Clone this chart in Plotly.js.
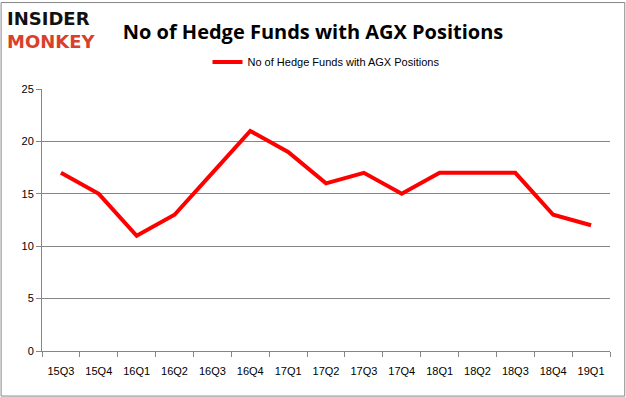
<!DOCTYPE html>
<html><head><meta charset="utf-8">
<script src="https://cdn.plot.ly/plotly-3.0.1.min.js"></script>
<style>body{margin:0;padding:0;}#chart{width:626px;height:397px;}</style>
</head><body><div id="chart"></div>
<script>
const quarters = ["15Q3","15Q4","16Q1","16Q2","16Q3","16Q4","17Q1","17Q2","17Q3","17Q4","18Q1","18Q2","18Q3","18Q4","19Q1"];
const hedgeFunds = [17,15,11,13,17,21,19,16,17,15,17,17,17,13,12];
const seriesName = "No of Hedge Funds with AGX Positions";
const yTicks = [0,5,10,15,20,25];

const trace = {
  x: quarters, y: hedgeFunds, type: "scatter", mode: "lines", name: seriesName,
  line: {color: "#ff0000", width: 4}
};
const layout = {
  width: 626, height: 397,
  margin: {l: 42, r: 16, t: 89, b: 46},
  paper_bgcolor: "#ffffff", plot_bgcolor: "#ffffff",
  font: {family: "Liberation Sans, Arial, sans-serif", size: 11, color: "#000"},
  title: {text: "<b>No of Hedge Funds with AGX Positions</b>", x: 0.5, xanchor: "center", y: 0.92, yanchor: "middle",
    font: {family: "Open Sans, Liberation Sans, sans-serif", size: 20, color: "#000"}},
  showlegend: true,
  legend: {orientation: "h", x: 0.5, xanchor: "center", y: 1.103, yanchor: "middle",
    font: {size: 11, family: "Liberation Sans, Arial, sans-serif"}},
  xaxis: {type: "category", categoryarray: quarters, range: [-0.5, quarters.length - 0.5],
    showline: true, linecolor: "#868686", linewidth: 1, ticks: "outside", ticklen: 5, tickcolor: "#868686",
    showgrid: false, tickfont: {size: 11}, fixedrange: true, ticklabelstandoff: 10,
    tickson: "boundaries"},
  yaxis: {range: [0, 25], tickvals: yTicks, showline: true, linecolor: "#868686", linewidth: 1,
    ticks: "outside", ticklen: 5, tickcolor: "#868686", gridcolor: "#868686", gridwidth: 1,
    zeroline: false, tickfont: {size: 11}, fixedrange: true},
  shapes: [{type: "rect", xref: "paper", yref: "paper", x0: -0.072, x1: 1.026, y0: -0.172, y1: 1.33,
    line: {color: "#868686", width: 1}, fillcolor: "rgba(0,0,0,0)"}],
  annotations: [
    {text: "<b>INSIDER</b>", xref: "paper", yref: "paper", x: -0.065, y: 1.27, xanchor: "left", yanchor: "middle",
      showarrow: false, font: {family: "DejaVu Sans, sans-serif", size: 18, color: "#111"}},
    {text: "<b>MONKEY</b>", xref: "paper", yref: "paper", x: -0.065, y: 1.18, xanchor: "left", yanchor: "middle",
      showarrow: false, font: {family: "DejaVu Sans, sans-serif", size: 18, color: "#d9402b"}}
  ]
};
Plotly.newPlot("chart", [trace], layout, {displayModeBar: false, staticPlot: true});
</script></body></html>
